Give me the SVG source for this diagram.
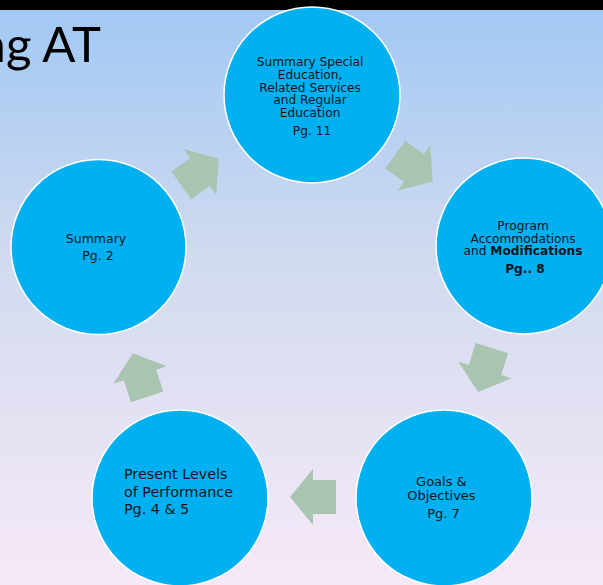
<svg xmlns="http://www.w3.org/2000/svg" width="603" height="585" viewBox="0 0 603 585">
<defs>
<linearGradient id="bg" x1="0" y1="10" x2="0" y2="585" gradientUnits="userSpaceOnUse">
<stop offset="0" stop-color="#a2c8f4"/>
<stop offset="0.45" stop-color="#d2dbef"/>
<stop offset="1" stop-color="#f7e9f7"/>
</linearGradient>
<path id="arr" d="M-23,-17 L0,-17 L0,-28 L23,0 L0,28 L0,17 L-23,17 Z"/>
<style>
.node circle{fill:#00b0f0;stroke:#ffffff;stroke-width:1.5}
.lbl{font-family:"DejaVu Sans",sans-serif;fill:#0e1622;text-anchor:middle}
.arrow{fill:#a9c4b1}
</style>
</defs>
<rect x="0" y="0" width="603" height="585" fill="url(#bg)"/>
<rect x="0" y="0" width="603" height="10" fill="#000"/>
<text x="101" y="62" font-family="Lato, 'Open Sans', sans-serif" font-size="49" fill="#000" text-anchor="end">ng AT</text>

<g id="connectors">
<use href="#arr" class="arrow" transform="translate(414,168) rotate(35.6)"/>
<use href="#arr" class="arrow" transform="translate(485,370) rotate(107.4)"/>
<use href="#arr" class="arrow" transform="translate(313,497) rotate(180)"/>
<use href="#arr" class="arrow" transform="translate(140,375) rotate(252)"/>
<use href="#arr" class="arrow" transform="translate(200,172) rotate(-35.4)"/>
</g>

<g id="node-top" class="node">
<circle cx="312" cy="95" r="88"/>
<text class="lbl" font-size="12.2">
<tspan x="312" y="66">Summary Special</tspan>
<tspan x="312" y="78.5">Education,</tspan>
<tspan x="312" y="91.5">Related Services</tspan>
<tspan x="312" y="103.8">and Regular</tspan>
<tspan x="312" y="116.5">Education</tspan>
<tspan x="312" y="134.5">Pg. 11</tspan>
</text>
</g>

<g id="node-right" class="node">
<circle cx="524" cy="246" r="88"/>
<text class="lbl" font-size="12.2">
<tspan x="525" y="230">Program</tspan>
<tspan x="525" y="242.5">Accommodations</tspan>
<tspan x="525" y="255">and <tspan font-weight="bold">Modifications</tspan></tspan>
<tspan x="525" y="273" font-weight="bold">Pg.. 8</tspan>
</text>
</g>

<g id="node-bottom-right" class="node">
<circle cx="444" cy="498" r="88"/>
<text class="lbl" font-size="13">
<tspan x="443.5" y="486">Goals &amp;</tspan>
<tspan x="443.5" y="499.5">Objectives</tspan>
<tspan x="443.5" y="517.5">Pg. 7</tspan>
</text>
</g>

<g id="node-bottom-left" class="node">
<circle cx="180" cy="498" r="88"/>
<text class="lbl" font-size="14.3" style="text-anchor:start">
<tspan x="124" y="478.5">Present Levels</tspan>
<tspan x="124" y="496.5">of Performance</tspan>
<tspan x="124" y="513.5">Pg. 4 &amp; 5</tspan>
</text>
</g>

<g id="node-left" class="node">
<circle cx="98.5" cy="247" r="87.5"/>
<text class="lbl" font-size="12.5">
<tspan x="98" y="243">Summary</tspan>
<tspan x="98" y="260">Pg. 2</tspan>
</text>
</g>
</svg>
